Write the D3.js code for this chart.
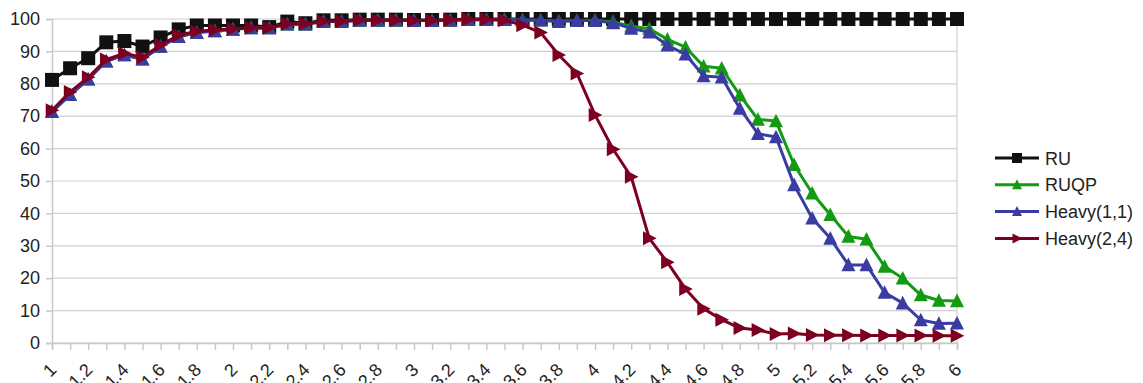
<!DOCTYPE html>
<html>
<head>
<meta charset="utf-8">
<script src="https://cdn.jsdelivr.net/npm/d3@7"></script>
<style>
  body { margin: 0; background: #fff; }
  text { font-family: "Liberation Sans", Arial, sans-serif; fill: #222; }
</style>
</head>
<body>
<div id="chart"></div>
<script>
// x categories
const xs = ["1","1.1","1.2","1.3","1.4","1.5","1.6","1.7","1.8","1.9",
            "2","2.1","2.2","2.3","2.4","2.5","2.6","2.7","2.8","2.9",
            "3","3.1","3.2","3.3","3.4","3.5","3.6","3.7","3.8","3.9",
            "4","4.1","4.2","4.3","4.4","4.5","4.6","4.7","4.8","4.9",
            "5","5.1","5.2","5.3","5.4","5.5","5.6","5.7","5.8","5.9","6"];

const ru = [81.2,84.8,87.9,92.8,93.2,91.5,94.3,96.8,98.0,98.0,
            98.0,98.0,97.5,99.2,98.7,99.6,99.6,99.8,99.8,99.8,
            99.7,99.7,99.8,100,100,100,100,100,100,100,
            100,100,100,100,100,100,100,100,100,100,
            100,100,100,100,100,100,100,100,100,100,100];

const ruqp = [71.4,76.6,81.4,87.0,88.9,87.6,91.5,94.5,95.8,96.3,
              96.8,97.2,97.2,98.4,98.4,99.2,99.2,99.6,99.6,99.6,
              99.5,99.5,99.6,99.8,99.8,99.8,99.7,99.6,99.3,99.5,
              99.6,99.1,97.8,97.0,93.7,91.3,85.4,84.8,76.5,69.0,
              68.5,55.0,46.2,39.6,32.9,32.0,23.6,20.0,14.8,13.1,13.0];

const heavy11 = [71.4,76.6,81.4,87.0,88.9,87.6,91.5,94.5,95.8,96.3,
                 96.8,97.2,97.2,98.4,98.4,99.2,99.2,99.6,99.6,99.6,
                 99.5,99.5,99.6,99.8,99.8,99.8,99.7,99.6,99.2,99.5,
                 99.5,98.8,97.1,95.9,91.9,89.1,82.4,82.0,72.4,64.6,
                 63.6,48.8,38.5,32.3,24.1,24.1,15.6,12.3,7.1,6.0,6.1];

const heavy24 = [71.8,77.5,82.0,87.5,89.4,88.2,92.0,95.0,96.2,96.6,
                 97.0,97.3,97.3,98.5,98.5,99.3,99.3,99.7,99.6,99.6,
                 99.5,99.5,99.7,99.9,99.9,99.6,98.1,95.8,88.9,83.2,
                 70.4,59.8,51.3,32.3,24.9,16.7,10.6,7.2,4.6,4.0,
                 2.8,2.9,2.5,2.4,2.4,2.3,2.3,2.3,2.3,2.2,2.2];

const yTicks = [0,10,20,30,40,50,60,70,80,90,100];
const xLabels = ["1","1.2","1.4","1.6","1.8","2","2.2","2.4","2.6","2.8",
                 "3","3.2","3.4","3.6","3.8","4","4.2","4.4","4.6","4.8",
                 "5","5.2","5.4","5.6","5.8","6"];

const series = [
  {name: "RU", values: ru, color: "#111111", marker: "square"},
  {name: "RUQP", values: ruqp, color: "#139a13", marker: "up"},
  {name: "Heavy(1,1)", values: heavy11, color: "#3a3ca2", marker: "up"},
  {name: "Heavy(2,4)", values: heavy24, color: "#7e0021", marker: "right"}
];

const W = 1143, H = 383;
const plotL = 52, plotR = 957, plotT = 19, plotB = 343;

const svg = d3.select("#chart").append("svg")
  .attr("width", W).attr("height", H);

const x = d3.scalePoint().domain(xs).range([plotL, plotR]);
const y = d3.scaleLinear().domain([0, 100]).range([plotB, plotT]);

// horizontal gridlines
svg.append("g").selectAll("line").data(yTicks).enter().append("line")
  .attr("x1", plotL).attr("x2", plotR)
  .attr("y1", d => y(d)).attr("y2", d => y(d))
  .attr("stroke", "#d0d0d0").attr("stroke-width", 1.2);

// right border
svg.append("line").attr("x1", plotR).attr("x2", plotR)
  .attr("y1", plotT).attr("y2", plotB)
  .attr("stroke", "#d0d0d0").attr("stroke-width", 1.2);

// y axis
const yAxis = svg.append("g").attr("transform", "translate(" + plotL + ",0)")
  .call(d3.axisLeft(y).tickValues(yTicks).tickSize(6).tickPadding(6));
yAxis.select(".domain").attr("stroke", "#c8c8c8").attr("stroke-width", 1.5);
yAxis.selectAll(".tick line").attr("stroke", "#c8c8c8").attr("stroke-width", 1.5);
yAxis.selectAll("text").style("font-size", "18px").attr("fill", "#222")
  .style("font-family", "Liberation Sans, Arial, sans-serif");

// x axis
const xAxis = svg.append("g").attr("transform", "translate(0," + plotB + ")")
  .call(d3.axisBottom(x).tickSize(7).tickFormat(d => xLabels.includes(d) ? d : ""));
xAxis.select(".domain").attr("stroke", "#c8c8c8").attr("stroke-width", 1.5);
xAxis.selectAll(".tick line").attr("stroke", "#c8c8c8").attr("stroke-width", 1.5);
xAxis.selectAll("text")
  .style("font-size", "18px").attr("fill", "#222")
  .style("font-family", "Liberation Sans, Arial, sans-serif")
  .attr("text-anchor", "end")
  .attr("x", 0).attr("y", 0).attr("dy", "0")
  .attr("transform", "translate(5,28) rotate(-45)");

function markerPath(type, s) {
  if (type === "square") return d3.symbol().type(d3.symbolSquare).size(s * s)();
  const h = s * 0.9;
  if (type === "up") return "M0," + (-h / 2 - 1) + "L" + (s / 2) + "," + (h / 2) + "L" + (-s / 2) + "," + (h / 2) + "Z";
  return "M" + (h / 2 + 1) + ",0L" + (-h / 2) + "," + (s / 2) + "L" + (-h / 2) + "," + (-s / 2) + "Z";
}

const line = d3.line().x((d, i) => x(xs[i])).y(d => y(d));

series.forEach(s => {
  const g = svg.append("g");
  g.append("path").datum(s.values)
    .attr("d", line).attr("fill", "none")
    .attr("stroke", s.color).attr("stroke-width", 3).attr("stroke-linejoin", "round");
  g.selectAll("path.m").data(s.values).enter().append("path")
    .attr("class", "m")
    .attr("d", markerPath(s.marker, 14))
    .attr("transform", (d, i) => "translate(" + x(xs[i]) + "," + y(d) + ")")
    .attr("fill", s.color);
});

// legend
const legend = svg.append("g");
series.forEach((s, i) => {
  const ly = 158 + i * 26.8;
  legend.append("line").attr("x1", 995).attr("x2", 1039)
    .attr("y1", ly).attr("y2", ly)
    .attr("stroke", s.color).attr("stroke-width", 3);
  legend.append("path").attr("d", markerPath(s.marker, 10))
    .attr("transform", "translate(1017," + ly + ")").attr("fill", s.color);
  legend.append("text").attr("x", 1045).attr("y", ly + 6.5)
    .style("font-size", "18px").text(s.name);
});
</script>
</body>
</html>
